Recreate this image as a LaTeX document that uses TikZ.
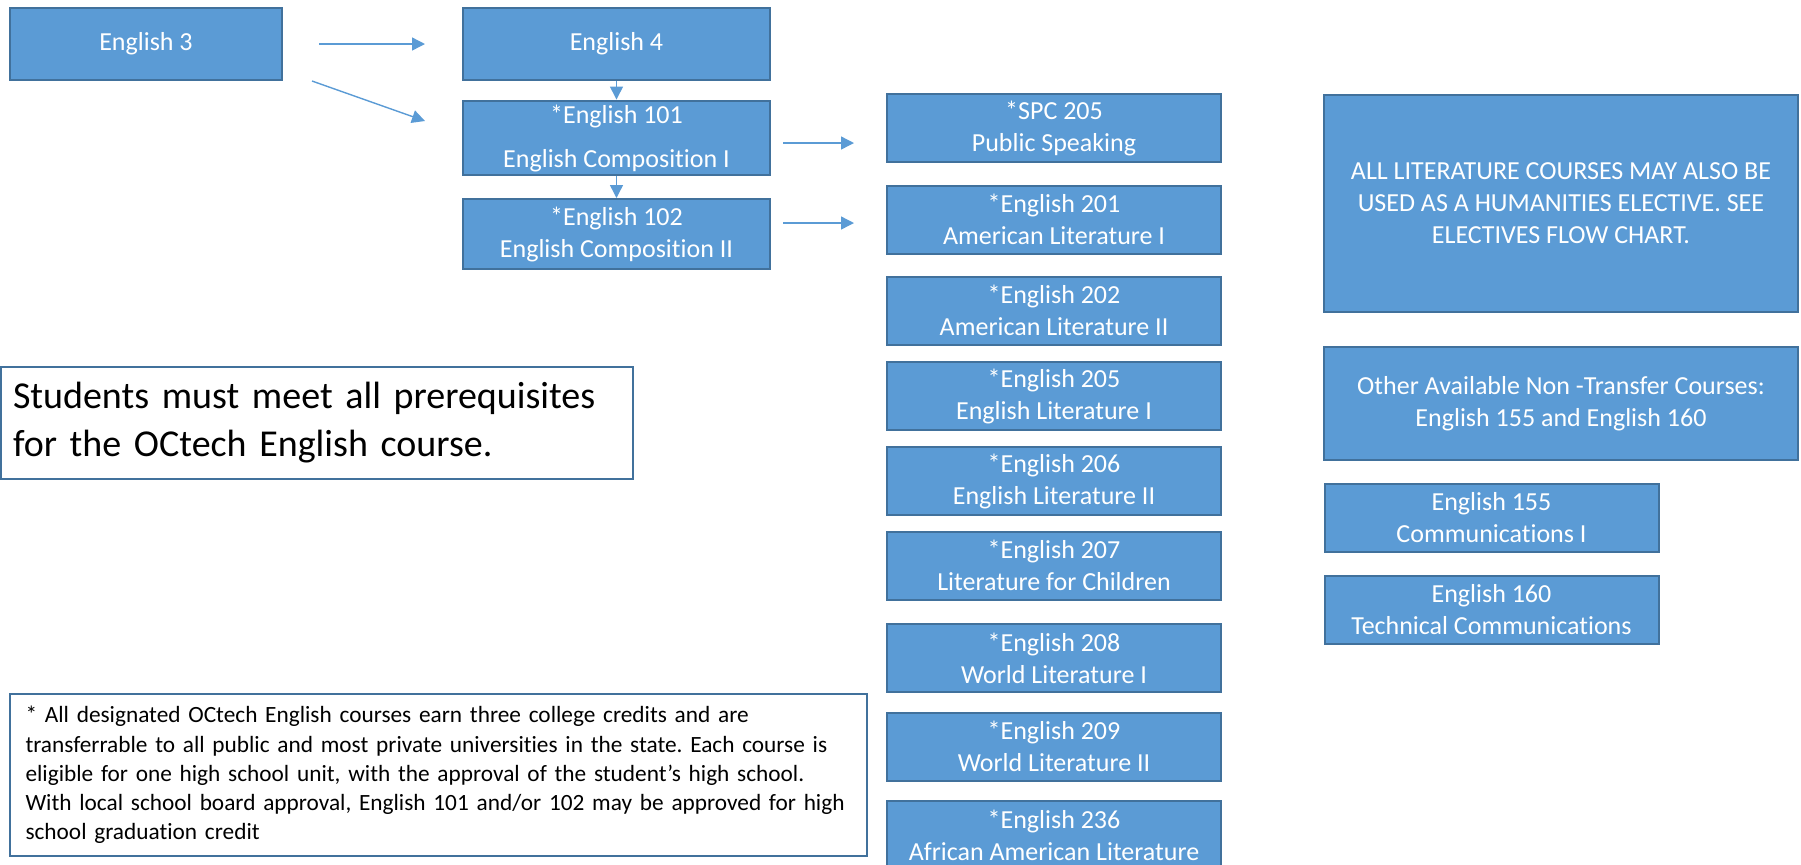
\documentclass[tikz,border=0pt]{standalone}
\usepackage{fontspec}
\setmainfont{Carlito}[Ligatures=NoCommon]
\usetikzlibrary{positioning,arrows.meta}
\definecolor{boxblue}{HTML}{5B9BD5}
\definecolor{edgeblue}{HTML}{41719C}
\frenchspacing

\begin{document}
\begin{tikzpicture}[x=0.5pt, y=-0.5pt,
    course/.style={draw=edgeblue, line width=1pt, fill=boxblue, text=white,
      align=center, inner sep=2pt, font=\fontsize{13}{16}\selectfont},
    topbox/.style={course, minimum width=153.5pt, minimum height=36pt},
    colbox/.style={course, minimum width=167pt, minimum height=34pt},
    sidebox/.style={course, minimum width=237pt},
    notebox/.style={draw=edgeblue, line width=0.75pt, fill=white, align=left},
    arrow/.style={-{Triangle[length=6.5pt, width=6.5pt]}, draw=boxblue, line width=0.7pt}
  ]
    \useasboundingbox (0,0) rectangle (1801,864);
    % sequence on the left
    \node[course, minimum width=136pt, minimum height=36pt] (E3) at (146,44) {English 3};
    \node[topbox] (E4) at (616.5,44) {English 4};
    \node[topbox] (E101) at (616.5,138) {*English 101\\[6pt]English Composition I};
    \node[topbox, minimum height=35pt] (E102) at (616.5,234) {*English 102\\English Composition II};
    % literature column
    \node[colbox] (SPC) at (1054,128) {*SPC 205\\Public Speaking};
    \node[colbox] (E201) at (1054,219.5) {*English 201\\American Literature I};
    \node[colbox] (E202) at (1054,310.5) {*English 202\\American Literature II};
    \node[colbox] (E205) at (1054,396) {*English 205\\English Literature I};
    \node[colbox] (E206) at (1054,481) {*English 206\\English Literature II};
    \node[colbox] (E207) at (1054,565.5) {*English 207\\Literature for Children};
    \node[colbox] (E208) at (1054,658) {*English 208\\World Literature I};
    \node[colbox] (E209) at (1054,746.5) {*English 209\\World Literature II};
    \node[colbox] (E236) at (1054,835) {*English 236\\African American Literature};
    % right side
    \node[sidebox, minimum height=108.5pt] (LIT) at (1561,203.5)
      {ALL LITERATURE COURSES MAY ALSO BE\\USED AS A HUMANITIES ELECTIVE. SEE\\ELECTIVES FLOW CHART.};
    \node[sidebox, minimum height=56.5pt] (OTHER) at (1561,403.5)
      {Other Available Non -Transfer Courses:\\English 155 and English 160};
    \node[colbox] (E155) at (1491.5,518) {English 155\\Communications I};
    \node[colbox] (E160) at (1491.5,609.5) {English 160\\Technical Communications};
    % notes
    \node[notebox, minimum width=316pt, minimum height=56pt, text width=304pt, inner xsep=6pt,
      font=\fontsize{19}{24}\selectfont] (PREQ) at (317,423)
      {Students must meet all prerequisites\\for the OCtech English course.};
    \node[notebox, minimum width=428.5pt, minimum height=81pt, text width=413pt, inner xsep=7.75pt,
      font=\fontsize{11.65}{14.6}\selectfont] (NOTE) at (438.5,775)
      {* All designated OCtech English courses earn three college credits and are\\
       transferrable to all public and most private universities in the state. Each course is\\
       eligible for one high school unit, with the approval of the student’s high school.\\
       With local school board approval, English 101 and/or 102 may be approved for high\\
       school graduation credit};
    % connectors
    \draw[arrow, shorten <=18pt, shorten >=18.5pt] (E3) -- (E4);
    \draw[arrow] ([xshift=14.5pt]E3.south east) -- ([xshift=-18.5pt, yshift=8.5pt]E101.west);
    \draw[arrow] (E4) -- (E101);
    \draw[arrow] (E101) -- (E102);
    \draw[arrow] ([xshift=6pt, yshift=-2.5pt]E101.east) -- ([xshift=-16pt, yshift=-7.5pt]SPC.west);
    \draw[arrow] ([xshift=6pt, yshift=5.5pt]E102.east) -- ([xshift=-16pt, yshift=-1.75pt]E201.west);
\end{tikzpicture}
\end{document}
